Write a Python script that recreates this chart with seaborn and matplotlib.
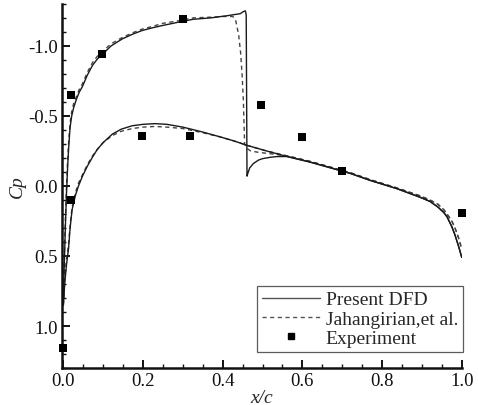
import numpy as np
import pandas as pd
import matplotlib
matplotlib.use("Agg")
import matplotlib.pyplot as plt
import seaborn as sns
from matplotlib.lines import Line2D
from matplotlib.ticker import MultipleLocator, FormatStrFormatter

# ---- data ----
# Present DFD, upper surface
dfd_up_x = [0.0, 0.002, 0.005, 0.008, 0.011, 0.014, 0.017, 0.021, 0.026, 0.033, 0.040, 0.048,
            0.060, 0.073, 0.085, 0.098, 0.120, 0.148, 0.175, 0.198, 0.225, 0.248, 0.290, 0.326,
            0.370, 0.410, 0.444, 0.452, 0.457, 0.459, 0.461, 0.463, 0.468, 0.477, 0.490, 0.500,
            0.520, 0.537, 0.562, 0.620, 0.670, 0.720, 0.770, 0.838, 0.895, 0.920, 0.940, 0.955,
            0.963, 0.975, 0.983, 0.992, 1.0]
dfd_up_cp = [0.85, 0.60, 0.30, 0.05, -0.15, -0.30, -0.42, -0.50, -0.56, -0.62, -0.67, -0.71,
             -0.79, -0.86, -0.905, -0.94, -1.00, -1.05, -1.085, -1.11, -1.13, -1.145, -1.17, -1.19,
             -1.20, -1.215, -1.23, -1.245, -1.25, -1.22, -0.07, -0.09, -0.13, -0.16, -0.185, -0.195,
             -0.205, -0.21, -0.21, -0.17, -0.13, -0.09, -0.04, 0.02, 0.08, 0.11, 0.15, 0.19,
             0.22, 0.29, 0.35, 0.43, 0.51]
# Present DFD, lower surface
dfd_lo_x = [0.0, 0.004, 0.008, 0.013, 0.017, 0.022, 0.030, 0.038, 0.048, 0.060, 0.072, 0.085,
            0.100, 0.123, 0.145, 0.173, 0.200, 0.230, 0.260, 0.300, 0.350, 0.394, 0.430, 0.461,
            0.510, 0.562, 0.620, 0.670, 0.720, 0.770, 0.838, 0.895, 0.920, 0.940, 0.955, 0.963,
            0.975, 0.983, 0.992, 1.0]
dfd_lo_cp = [0.85, 0.68, 0.56, 0.45, 0.30, 0.17, 0.07, 0.00, -0.07, -0.14, -0.20, -0.26,
             -0.31, -0.37, -0.405, -0.43, -0.44, -0.445, -0.44, -0.42, -0.385, -0.35, -0.32, -0.29,
             -0.25, -0.21, -0.17, -0.13, -0.09, -0.04, 0.02, 0.08, 0.11, 0.15, 0.19, 0.22,
             0.29, 0.35, 0.43, 0.51]
# Jahangirian et al., upper surface
jah_up_x = [0.0, 0.002, 0.005, 0.008, 0.011, 0.014, 0.017, 0.021, 0.026, 0.033, 0.040, 0.048,
            0.060, 0.073, 0.085, 0.098, 0.120, 0.148, 0.175, 0.198, 0.225, 0.248, 0.290, 0.326,
            0.370, 0.400, 0.425, 0.432, 0.440, 0.445, 0.449, 0.452, 0.455, 0.460, 0.470, 0.490,
            0.520, 0.562, 0.620, 0.670, 0.720, 0.770, 0.838, 0.895, 0.920, 0.940, 0.955, 0.963,
            0.975, 0.983, 0.992, 1.0]
jah_up_cp = [0.85, 0.55, 0.25, 0.00, -0.20, -0.34, -0.45, -0.53, -0.59, -0.64, -0.69, -0.73,
             -0.81, -0.88, -0.925, -0.96, -1.015, -1.06, -1.095, -1.12, -1.14, -1.16, -1.18, -1.20,
             -1.205, -1.21, -1.21, -1.19, -1.08, -0.95, -0.78, -0.60, -0.30, -0.27, -0.25, -0.24,
             -0.23, -0.215, -0.175, -0.135, -0.095, -0.045, 0.015, 0.07, 0.10, 0.13, 0.17, 0.20,
             0.25, 0.30, 0.37, 0.45]
# Jahangirian et al., lower surface
jah_lo_x = [0.0, 0.004, 0.008, 0.013, 0.017, 0.022, 0.030, 0.038, 0.048, 0.060, 0.072, 0.085,
            0.100, 0.123, 0.145, 0.173, 0.200, 0.230, 0.260, 0.300, 0.350, 0.394, 0.430, 0.461,
            0.510, 0.562, 0.620, 0.670, 0.720, 0.770, 0.838, 0.895, 0.920, 0.940, 0.955, 0.963,
            0.975, 0.983, 0.992, 1.0]
jah_lo_cp = [0.85, 0.64, 0.52, 0.42, 0.28, 0.15, 0.05, -0.02, -0.08, -0.15, -0.21, -0.26,
             -0.31, -0.36, -0.39, -0.41, -0.42, -0.425, -0.42, -0.41, -0.38, -0.35, -0.32, -0.29,
             -0.25, -0.215, -0.175, -0.135, -0.095, -0.045, 0.015, 0.07, 0.10, 0.13, 0.17, 0.20,
             0.25, 0.30, 0.37, 0.45]
# Experiment
exp_x = [0.0, 0.018, 0.018, 0.098, 0.198, 0.300, 0.318, 0.497, 0.600, 0.700, 1.0]
exp_cp = [1.16, 0.10, -0.65, -0.94, -0.36, -1.19, -0.36, -0.58, -0.35, -0.11, 0.19]

labels = ["Present DFD", "Jahangirian,et al.", "Experiment"]

# ---- style ----
sns.set_style("ticks")
plt.rcParams["font.family"] = ["Liberation Serif", "DejaVu Serif"]

fig = plt.figure(figsize=(4.78, 4.06), dpi=100)
ax = fig.add_axes([0.130, 0.091, 0.836, 0.897])

solid_kw = dict(color="#1a1a1a", linewidth=1.0, linestyle="-", sort=False, estimator=None, ax=ax)
dash_kw = dict(color="#444444", linewidth=1.0, linestyle=(0, (3, 2.5)), sort=False, estimator=None, ax=ax)

sns.lineplot(x=jah_up_x, y=jah_up_cp, **dash_kw)
sns.lineplot(x=jah_lo_x, y=jah_lo_cp, **dash_kw)
sns.lineplot(x=dfd_up_x, y=dfd_up_cp, **solid_kw)
sns.lineplot(x=dfd_lo_x, y=dfd_lo_cp, **solid_kw)
sns.scatterplot(x=exp_x, y=exp_cp, marker="s", s=26, color="black", edgecolor="black",
                linewidth=0, ax=ax, zorder=5, clip_on=False)

ax.set_xlim(-0.003, 1.0)
ax.set_ylim(1.3, -1.3)
ax.xaxis.set_major_locator(MultipleLocator(0.2))
ax.xaxis.set_minor_locator(MultipleLocator(0.05))
ax.yaxis.set_major_locator(MultipleLocator(0.5))
ax.yaxis.set_minor_locator(MultipleLocator(0.1))
ax.xaxis.set_major_formatter(FormatStrFormatter("%.1f"))
ax.yaxis.set_major_formatter(FormatStrFormatter("%.1f"))

for side in ["top", "right"]:
    ax.spines[side].set_visible(False)
for side in ["left", "bottom"]:
    ax.spines[side].set_linewidth(1.8)
    ax.spines[side].set_color("#111111")

ax.tick_params(axis="both", which="major", direction="in", length=6, width=1.4,
               labelsize=13.5, colors="#111111", pad=3)
ax.tick_params(axis="both", which="minor", direction="in", length=3, width=1.0, colors="#111111")

ax.set_xlabel("x/c", fontsize=14, style="italic", labelpad=0)
ax.set_ylabel("Cp", fontsize=14, style="italic", labelpad=2)

handles = [
    Line2D([], [], color="#555555", linewidth=1.0, linestyle="-"),
    Line2D([], [], color="#555555", linewidth=1.0, linestyle=(0, (3, 2.5))),
    Line2D([], [], color="black", marker="s", markersize=4, linestyle="none"),
]
leg = ax.legend(handles, labels, loc="lower right", bbox_to_anchor=(1.003, 0.045),
                borderaxespad=0, fontsize=14, frameon=True, fancybox=False,
                handlelength=3.0, handletextpad=0.3, labelspacing=0.08, borderpad=0.25)
leg.get_frame().set_edgecolor("#333333")
leg.get_frame().set_linewidth(0.9)

fig.savefig("out.png", dpi=100)
